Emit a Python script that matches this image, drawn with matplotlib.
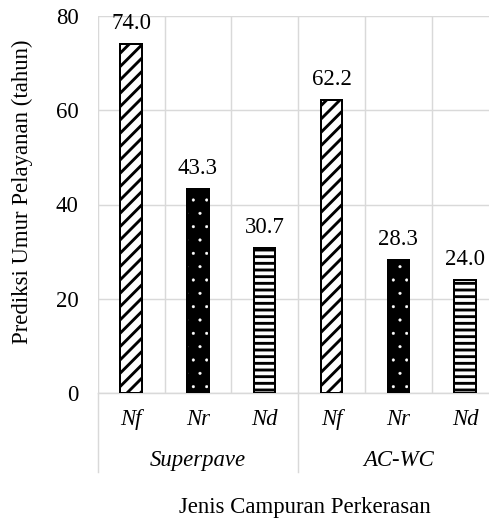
import matplotlib
matplotlib.use("Agg")
import matplotlib.pyplot as plt
import matplotlib.transforms as mtransforms
import numpy as np

# ---- data ----
groups = ["Superpave", "AC-WC"]
params = ["Nf", "Nr", "Nd"]
values = [74.0, 43.3, 30.7, 62.2, 28.3, 24.0]
yticks = [0, 20, 40, 60, 80]

DPI = 80
plt.rcParams["font.family"] = ["Liberation Serif", "DejaVu Serif"]
FS = 20.5

fig = plt.figure(figsize=(489 / DPI, 519 / DPI), dpi=DPI)
ax = fig.add_axes([97.7 / 489, 126 / 519, (498.5 - 97.7) / 489, (393 - 16) / 519])

n = len(values)
x = np.arange(n)
styles = {"Nf": dict(face="white", hatch="//", hc="black", hlw=2.6),
          "Nr": dict(face="black", hatch=".", hc="white", hlw=0.3),
          "Nd": dict(face="white", hatch="--", hc="black", hlw=2.6)}
bw = 0.32
for i, v in enumerate(values):
    p = params[i % len(params)]
    st = styles[p]
    with plt.rc_context({"hatch.linewidth": st["hlw"]}):
        b = ax.bar(x[i], v, width=bw, color=st["face"], edgecolor=st["hc"],
                   hatch=st["hatch"], linewidth=0, zorder=3)
        for r in b:
            if hasattr(r, "set_hatch_linewidth"):
                r.set_hatch_linewidth(st["hlw"])
    ax.bar(x[i], v, width=bw, facecolor="none", edgecolor="black",
           linewidth=1.8, zorder=4)
    ax.annotate(f"{v:.1f}", (x[i], v), xytext=(0, 13.5), textcoords="offset points",
                ha="center", va="baseline", fontsize=FS, zorder=5)

ax.set_xlim(-0.5, n - 0.5)
ax.set_ylim(0, 80)
ax.set_yticks(yticks)
ax.set_yticklabels([str(t) for t in yticks], fontsize=FS)
ax.tick_params(axis="y", length=0, pad=17)
ax.set_xticks([])
ax.set_xticks(np.arange(-0.5, n, 1.0), minor=True)
ax.tick_params(axis="x", which="both", length=0, labelbottom=False)
ax.grid(axis="y", color="#d9d9d9", linewidth=1.3, zorder=0)
ax.grid(axis="x", which="minor", color="#d9d9d9", linewidth=1.3, zorder=0)
for s in ["top", "right", "left"]:
    ax.spines[s].set_visible(False)
ax.spines["bottom"].set_color("#d9d9d9")
ax.spines["bottom"].set_linewidth(1.3)

trans = mtransforms.blended_transform_factory(ax.transData, ax.transAxes)
for i in range(n):
    ax.text(x[i], -0.0716, params[i % len(params)], transform=trans,
            ha="center", va="center", fontsize=FS, style="italic")
ng = len(params)
for g, name in enumerate(groups):
    ax.text(g * ng + (ng - 1) / 2, -0.180, name, transform=trans,
            ha="center", va="center", fontsize=FS, style="italic")
for b in range(len(groups) + 1):
    ax.plot([b * ng - 0.5, b * ng - 0.5], [0, -0.2095], transform=trans,
            color="#d9d9d9", linewidth=1.3, clip_on=False)

fig.text(305 / 489, 1 - 507 / 519, "Jenis Campuran Perkerasan",
         ha="center", va="center", fontsize=FS)
fig.text(22 / 489, 1 - 192 / 519, "Prediksi Umur Pelayanan (tahun)",
         ha="center", va="center", rotation=90, fontsize=FS)

fig.savefig("out.png", dpi=DPI)
